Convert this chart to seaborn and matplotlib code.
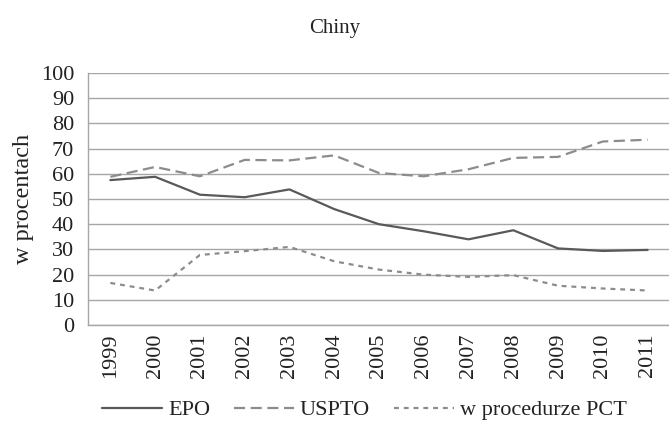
import pandas as pd
import numpy as np
from matplotlib import pyplot as plt
import seaborn as sns

# values (percent)
years = ['1999', '2000', '2001', '2002', '2003', '2004', '2005',
         '2006', '2007', '2008', '2009', '2010', '2011']
epo = [57.5, 58.8, 51.7, 50.7, 53.8, 46.0, 40.0, 37.2, 34.0, 37.6, 30.4, 29.4, 29.8]
uspto = [58.8, 62.7, 59.0, 65.5, 65.3, 67.3, 60.3, 59.0, 61.8, 66.3, 66.7, 72.8, 73.5]
pct = [16.7, 13.7, 27.8, 29.3, 31.0, 25.3, 22.0, 20.0, 19.1, 19.8, 15.6, 14.5, 13.7]
series_names = ['EPO', 'USPTO', 'w procedurze PCT']

df = pd.DataFrame({'pos': np.arange(len(years)), 'EPO': epo,
                   'USPTO': uspto, 'w procedurze PCT': pct})
long_df = df.melt(id_vars='pos', var_name='seria', value_name='val')

sns.set_style('white')
plt.rcParams['font.family'] = ['Liberation Serif', 'DejaVu Serif']

fig = plt.figure(figsize=(6.69, 4.34), dpi=100)
ax = fig.add_axes([0.1315, 0.251, 0.87, 0.581])

sns.lineplot(data=long_df, x='pos', y='val', hue='seria', style='seria',
             palette={'EPO': '#595959', 'USPTO': '#8c8c8c', 'w procedurze PCT': '#8c8c8c'},
             dashes={'EPO': '', 'USPTO': (5, 2.5), 'w procedurze PCT': (2.2, 2.2)},
             linewidth=1.6, ax=ax, legend=False)

ax.set_xlim(-0.5, len(years) - 0.5)
ax.set_ylim(0, 100)
ax.set_yticks(range(0, 101, 10))
ax.yaxis.grid(True, color='#a6a6a6', linewidth=1)
ax.set_axisbelow(True)

# category labels in centre, tick marks at boundaries
ax.set_xticks(np.arange(len(years)))
ax.set_xticklabels(years, rotation=90)
ax.set_xticks(np.arange(-0.5, len(years)), minor=True)
ax.tick_params(axis='x', which='major', length=0, pad=6, labelsize=16, colors='#222222')
ax.tick_params(axis='x', which='minor', length=6, color='#a6a6a6', width=1)
ax.tick_params(axis='y', length=6, color='#a6a6a6', labelsize=16, labelcolor='#222222', pad=4)

for s in ['top', 'right']:
    ax.spines[s].set_visible(False)
for s in ['left', 'bottom']:
    ax.spines[s].set_color('#a6a6a6')
    ax.spines[s].set_linewidth(1)

ax.set_xlabel('')
ax.set_ylabel('w procentach', fontsize=17.5, color='#222222', labelpad=5)

fig.text(0.5, 0.935, 'Chiny', ha='center', va='center', fontsize=15, color='#222222')

handles = [plt.Line2D([], [], color='#595959', lw=1.6),
           plt.Line2D([], [], color='#8c8c8c', lw=1.6, dashes=(5, 2.5)),
           plt.Line2D([], [], color='#8c8c8c', lw=1.6, dashes=(2.2, 2.2))]
fig.legend(handles, series_names, loc='center', bbox_to_anchor=(0.545, 0.055),
           ncol=3, frameon=False, fontsize=16, handlelength=2.7,
           handletextpad=0.25, columnspacing=1.1, labelcolor='#222222')

plt.savefig('out.png', dpi=100)
